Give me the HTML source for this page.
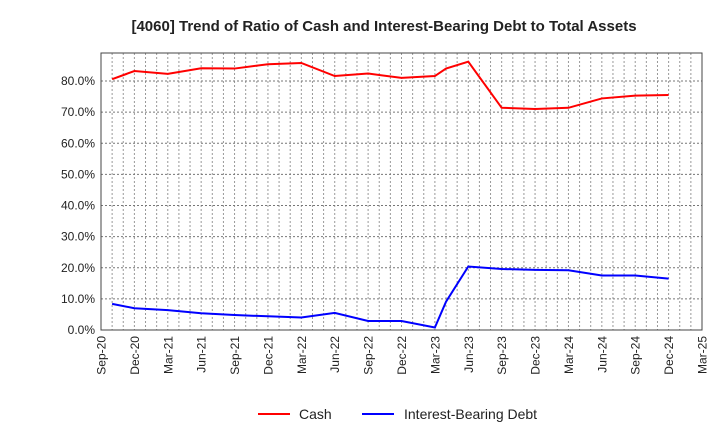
<!DOCTYPE html>
<html><head><meta charset="utf-8"><style>
body{margin:0;background:#fff;font-family:"Liberation Sans",sans-serif}
</style></head><body>
<svg id="c" width="720" height="440" xmlns="http://www.w3.org/2000/svg">
<text x="384" y="31" text-anchor="middle" font-size="15" font-weight="bold" fill="#222">[4060]  Trend of Ratio of Cash and Interest-Bearing Debt to Total Assets</text>
<g id="grid"></g>
<g id="axes"></g>
<g id="series"></g>
<g>
<line x1="258" y1="414" x2="290" y2="414" stroke="#f00" stroke-width="2"/>
<text x="299" y="419" font-size="14" fill="#222">Cash</text>
<line x1="362" y1="414" x2="394" y2="414" stroke="#00f" stroke-width="2"/>
<text x="404" y="419" font-size="14" fill="#222">Interest-Bearing Debt</text>
</g>
</svg>
<script>
const months = [1,3,6,9,12,15,18,21,24,27,30,31,33,36,39,42,45,48,51];
const cash = [80.6,83.2,82.3,84.1,84.0,85.4,85.8,81.6,82.4,81.0,81.6,84.0,86.2,71.4,71.0,71.4,74.4,75.3,75.5];
const debt = [8.4,7.0,6.4,5.4,4.8,4.4,4.0,5.5,2.9,2.9,0.8,9.1,20.4,19.6,19.3,19.2,17.5,17.5,16.5];
const yTicks = [0,10,20,30,40,50,60,70,80];
const xTickLabels = ["Sep-20","Dec-20","Mar-21","Jun-21","Sep-21","Dec-21","Mar-22","Jun-22","Sep-22","Dec-22","Mar-23","Jun-23","Sep-23","Dec-23","Mar-24","Jun-24","Sep-24","Dec-24","Mar-25"];
const L=101,R=702,T=53,B=330,MAXM=54,YMAX=89;
const xs=m=>L+(R-L)*m/MAXM, ys=v=>B-(B-T)*v/YMAX;
const NS="http://www.w3.org/2000/svg";
function mk(t,a,p){const e=document.createElementNS(NS,t);for(const k in a)e.setAttribute(k,a[k]);p.appendChild(e);return e;}
const grid=document.getElementById('grid'),axes=document.getElementById('axes'),ser=document.getElementById('series');
for(let m=1;m<MAXM;m++){const l=mk('line',{x1:xs(m),x2:xs(m),y1:T,y2:B,stroke:'#999','stroke-width':1,'stroke-dasharray':'2,2'},grid);

}
yTicks.forEach(v=>{const l=mk('line',{x1:L,x2:R,y1:ys(v),y2:ys(v),stroke:'#777','stroke-width':1,'stroke-dasharray':'2,2'},grid);


const t=mk('text',{x:L-6,y:ys(v)+4,'text-anchor':'end','font-size':12,fill:'#222'},axes);t.textContent=v.toFixed(1)+'%';

});
xTickLabels.forEach((s,i)=>{const x=xs(i*3)+4.5;const y=B+6;const t=mk('text',{x:x,y:y,'text-anchor':'end','font-size':12,fill:'#222',transform:`rotate(-90 ${x} ${y})`},axes);t.textContent=s;

});
const fr=mk('rect',{x:L,y:T,width:R-L,height:B-T,fill:'none',stroke:'#444','stroke-width':1},axes);


function line(vals,col,name){const p=mk('polyline',{points:months.map((m,i)=>xs(m)+','+ys(vals[i])).join(' '),fill:'none',stroke:col,'stroke-width':2},ser);

}
line(cash,'#f00','cash-line');
line(debt,'#00f','debt-line');
</script>
</body></html>
